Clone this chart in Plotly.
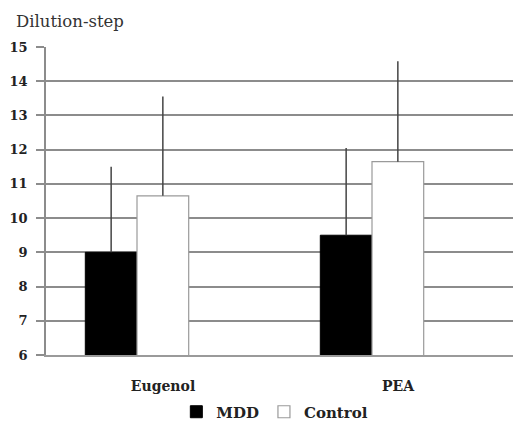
import plotly.graph_objects as go

# Odor threshold (dilution step) by odorant and group
odorants = ["Eugenol", "PEA"]
mdd_mean = [9.0, 9.5]
mdd_sd = [2.5, 2.55]
control_mean = [10.65, 11.65]
control_sd = [2.9, 2.93]
y_ticks = [6, 7, 8, 9, 10, 11, 12, 13, 14, 15]

serif = "DejaVu Serif"

fig = go.Figure()
fig.add_trace(go.Bar(
    name="MDD", x=odorants, y=mdd_mean,
    marker=dict(color="black", line=dict(color="black", width=1)),
    error_y=dict(type="data", symmetric=False, array=mdd_sd,
                 arrayminus=[0] * len(mdd_sd), width=0,
                 color="#444444", thickness=1.5),
))
fig.add_trace(go.Bar(
    name="Control", x=odorants, y=control_mean,
    marker=dict(color="white", line=dict(color="#9a9a9a", width=1.2)),
    error_y=dict(type="data", symmetric=False, array=control_sd,
                 arrayminus=[0] * len(control_sd), width=0,
                 color="#444444", thickness=1.5),
))

fig.update_layout(
    width=513, height=430,
    margin=dict(l=46, r=0, t=47, b=75),
    paper_bgcolor="white", plot_bgcolor="white",
    barmode="group", bargap=0.56, bargroupgap=0,
    font=dict(family=serif, color="#222222"),
    showlegend=True,
    legend=dict(orientation="h", x=0.49, xanchor="center",
                y=-0.185, yanchor="middle",
                font=dict(family=serif, size=15, color="#222222", weight="bold"),
                itemwidth=30, tracegroupgap=0, bgcolor="rgba(0,0,0,0)"),
    annotations=[dict(text="Dilution-step", xref="paper", yref="paper",
                      x=-32 / 467, y=1 + 25 / 308, xanchor="left", yanchor="middle",
                      showarrow=False,
                      font=dict(family=serif, size=16.5, color="#333333"))],
)

fig.update_xaxes(
    type="category", range=[-91 / 235, 376 / 235],
    showgrid=False, showline=True, linecolor="#9a9a9a", linewidth=1.5,
    ticks="", ticklabelshift=26, ticklabelstandoff=17,
    tickfont=dict(family=serif, size=14, color="#222222", weight="bold"),
)
fig.update_yaxes(
    range=[6, 15], tickvals=y_ticks,
    showgrid=True, gridcolor="#8c8c8c", gridwidth=1.5,
    showline=True, linecolor="#8c8c8c", linewidth=1.5,
    ticks="outside", ticklen=8, tickcolor="#8c8c8c", tickwidth=1.5,
    ticklabelstandoff=6, zeroline=False,
    tickfont=dict(family=serif, size=13, color="#222222", weight="bold"),
)

fig.write_html("out.html")
